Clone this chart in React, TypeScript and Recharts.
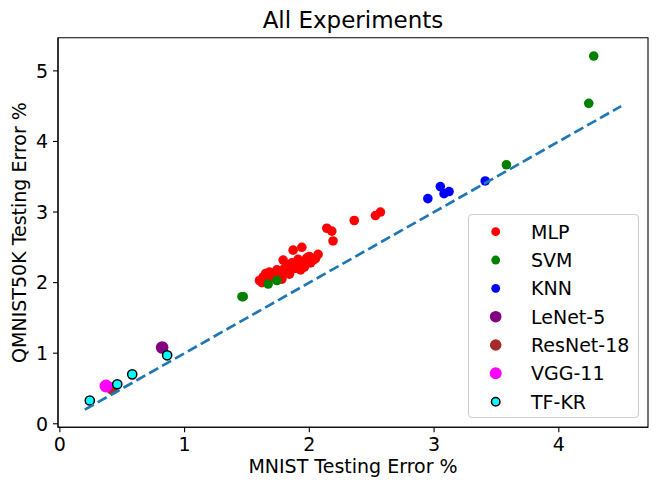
import { ScatterChart, Scatter, XAxis, YAxis, Legend, Label, ReferenceArea } from 'recharts'

// [MNIST error %, QMNIST50K error %]
const MLP: [number, number][] = [
    [1.60, 2.03], [1.62, 2.00], [1.63, 2.08], [1.65, 2.13], [1.67, 2.10],
    [1.68, 2.15], [1.70, 2.07], [1.72, 2.12], [1.74, 2.18], [1.75, 2.10],
    [1.77, 2.15], [1.78, 2.05], [1.79, 2.32], [1.80, 2.20], [1.82, 2.17],
    [1.83, 2.25], [1.84, 2.12], [1.86, 2.28], [1.87, 2.46], [1.88, 2.20],
    [1.90, 2.23], [1.91, 2.33], [1.93, 2.18], [1.94, 2.50], [1.95, 2.30],
    [1.96, 2.22], [1.98, 2.35], [2.00, 2.37], [2.01, 2.28], [2.03, 2.32],
    [2.05, 2.34], [2.07, 2.40], [2.14, 2.77], [2.18, 2.73], [2.19, 2.59],
    [2.36, 2.88], [2.53, 2.95], [2.57, 3.00],
]
const SVM: [number, number][] = [
    [1.46, 1.80], [1.47, 1.80], [1.67, 1.98], [1.74, 2.03],
    [3.58, 3.67], [4.24, 4.54], [4.28, 5.21],
]
const KNN: [number, number][] = [
    [2.95, 3.19], [3.05, 3.36], [3.08, 3.26], [3.12, 3.29], [3.41, 3.44],
]
const LENET: [number, number][] = [[0.82, 1.08]]
const RESNET: [number, number][] = [[0.42, 0.50]]
const VGG: [number, number][] = [[0.37, 0.535]]
const TFKR: [number, number][] = [
    [0.24, 0.33], [0.46, 0.56], [0.58, 0.70], [0.86, 0.97],
]
const DIAGONAL: [number, number][] = [[0.2, 0.2], [4.5, 4.5]]

const X_TICKS = [0, 1, 2, 3, 4]
const Y_TICKS = [0, 1, 2, 3, 4, 5]
const X_DOMAIN: [number, number] = [-0.015, 4.715]
const Y_DOMAIN: [number, number] = [-0.05, 5.47]

const SERIES = [
    { name: 'MLP', color: '#ff0000', points: MLP, r: 4.8 },
    { name: 'SVM', color: '#008000', points: SVM, r: 4.8 },
    { name: 'KNN', color: '#0000ff', points: KNN, r: 4.8 },
    { name: 'LeNet-5', color: '#800080', points: LENET, r: 6.3 },
    { name: 'ResNet-18', color: '#a52a2a', points: RESNET, r: 6.3 },
    { name: 'VGG-11', color: '#ff00ff', points: VGG, r: 6.5 },
    { name: 'TF-KR', color: '#00ffff', points: TFKR, r: 4.6, edge: '#000000' },
]

const FONT = 'DejaVu Sans'
const toXY = (pts: [number, number][]) => pts.map(([x, y]) => ({ x, y }))

function LegendBox() {
    return (
        <div style={{
            width: 171, height: 204, boxSizing: 'border-box',
            border: '1px solid #cccccc', borderRadius: 4,
            background: 'rgba(255,255,255,0.8)',
        }}>
            <svg width={169} height={202}>
                {SERIES.map((s, i) => {
                    const cy = 16.7 + i * 28.33
                    return (
                        <g key={s.name}>
                            <circle cx={26.7} cy={cy} r={s.r * 0.92} fill={s.color}
                                stroke={s.edge ?? 'none'} strokeWidth={1.5} />
                            <text x={62} y={cy} dominantBaseline="central"
                                fontFamily={FONT} fontSize={19} fill="#000">{s.name}</text>
                        </g>
                    )
                })}
            </svg>
        </div>
    )
}

export default function App() {
    const axisLine = { stroke: '#000', strokeWidth: 1.1 }
    const tick = { fill: '#000', fontSize: 19, fontFamily: FONT }
    return (
        <div style={{ position: 'absolute', left: 0, top: 0 }}>
            <ScatterChart width={664} height={492}
                margin={{ top: 37.7, right: 16, bottom: 0, left: 0 }}>
                <XAxis xAxisId="b" dataKey="x" type="number" domain={X_DOMAIN}
                    allowDataOverflow ticks={X_TICKS} height={64.7}
                    tick={tick} tickLine={axisLine} axisLine={axisLine}
                    tickSize={5} tickMargin={5}>
                    <Label content={({ viewBox }: any) => (
                        <g>
                            <text x={viewBox.x + viewBox.width / 2} y={473} textAnchor="middle"
                                fontFamily={FONT} fontSize={19} fill="#000">MNIST Testing Error %</text>
                            <text x={viewBox.x + viewBox.width / 2} y={28} textAnchor="middle"
                                fontFamily={FONT} fontSize={23} fill="#000">All Experiments</text>
                        </g>
                    )} />
                </XAxis>
                <YAxis yAxisId="l" dataKey="y" type="number" domain={Y_DOMAIN}
                    allowDataOverflow ticks={Y_TICKS} width={58}
                    tick={tick} tickLine={axisLine} axisLine={axisLine}
                    tickSize={5} tickMargin={5}>
                    <Label content={({ viewBox }: any) => {
                        const cy = viewBox.y + viewBox.height / 2
                        return (
                            <text x={19} y={cy} textAnchor="middle" dominantBaseline="central"
                                transform={`rotate(-90, 19, ${cy})`}
                                fontFamily={FONT} fontSize={19} fill="#000">QMNIST50K Testing Error %</text>
                        )
                    }} />
                </YAxis>

                <ReferenceArea xAxisId="b" yAxisId="l"
                    x1={X_DOMAIN[0]} x2={X_DOMAIN[1]} y1={Y_DOMAIN[0]} y2={Y_DOMAIN[1]}
                    fill="none" fillOpacity={0} stroke="#000" strokeWidth={1.1} strokeOpacity={1} />

                {SERIES.map(s => (
                    <Scatter key={s.name} name={s.name} data={toXY(s.points)}
                        xAxisId="b" yAxisId="l" isAnimationActive={false}
                        shape={(p: any) => (
                            <circle cx={p.cx} cy={p.cy} r={s.r} fill={s.color}
                                stroke={s.edge ?? 'none'} strokeWidth={1.5} />
                        )} />
                ))}
                <Scatter name="diagonal" data={toXY(DIAGONAL)} xAxisId="b" yAxisId="l"
                    isAnimationActive={false} legendType="none"
                    line={{ stroke: '#1f77b4', strokeWidth: 2.7, strokeDasharray: '10.3 4.5' }}
                    shape={() => <g />} />

                <Legend layout="vertical" align="center" verticalAlign="middle"
                    wrapperStyle={{ position: 'absolute', left: 468, top: 214, width: 171, height: 204 }}
                    content={() => <LegendBox />} />
            </ScatterChart>
        </div>
    )
}
